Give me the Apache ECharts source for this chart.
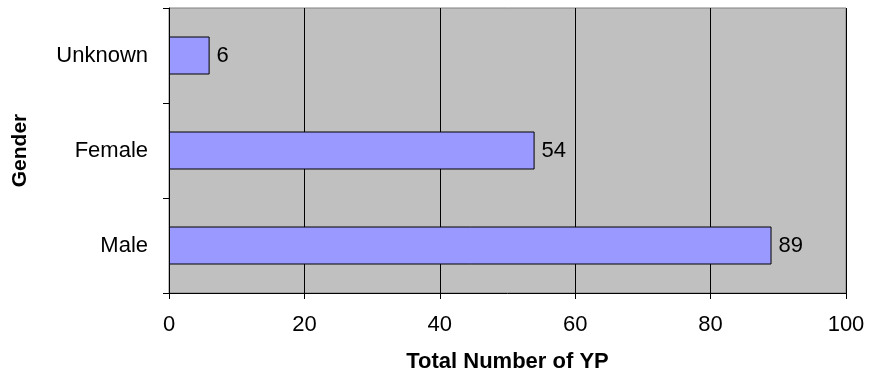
<!DOCTYPE html>
<html>
<head>
<meta charset="utf-8">
<script src="https://cdn.jsdelivr.net/npm/echarts@6/dist/echarts.min.js"></script>
<style>
  html, body { margin: 0; padding: 0; background: #fff; }
  #chart { width: 885px; height: 381px; }
</style>
</head>
<body>
<div id="chart"></div>
<script>
// Gender breakdown of young people (YP)
const categories = ['Male', 'Female', 'Unknown'];
const counts = [89, 54, 6];
const xTicks = [0, 20, 40, 60, 80, 100];

const font = 'Liberation Sans, Arial, sans-serif';
const chart = echarts.init(document.getElementById('chart'), null, { renderer: 'canvas' });

chart.setOption({
  animation: false,
  backgroundColor: '#ffffff',
  grid: {
    left: 169, top: 8, width: 677, height: 285,
    show: true, backgroundColor: '#c0c0c0', borderColor: '#808080', borderWidth: 1
  },
  xAxis: {
    type: 'value',
    min: xTicks[0],
    max: xTicks[xTicks.length - 1],
    interval: 20,
    name: 'Total Number of YP',
    nameLocation: 'middle',
    nameGap: 58,
    nameTextStyle: { fontFamily: font, fontSize: 22, fontWeight: 'bold', color: '#000' },
    axisLine: { show: true, lineStyle: { color: '#000', width: 1 } },
    axisTick: { show: true, length: 6, inside: false, lineStyle: { color: '#000' } },
    axisLabel: { fontFamily: font, fontSize: 22, color: '#000', margin: 21 },
    splitLine: { show: true, lineStyle: { color: '#000', width: 1 } }
  },
  yAxis: {
    type: 'category',
    data: categories,
    name: 'Gender',
    nameLocation: 'middle',
    nameGap: 138,
    nameRotate: 90,
    nameTextStyle: { fontFamily: font, fontSize: 21, fontWeight: 'bold', color: '#000' },
    axisLine: { show: true, lineStyle: { color: '#000', width: 1 } },
    axisTick: { show: true, length: 6, lineStyle: { color: '#000' } },
    axisLabel: { fontFamily: font, fontSize: 22, color: '#000', margin: 21 },
    splitLine: { show: false }
  },
  series: [{
    type: 'bar',
    data: counts,
    barCategoryGap: '60%',
    itemStyle: { color: '#9999ff', borderColor: '#000', borderWidth: 1 },
    label: {
      show: true, position: 'right', distance: 7,
      fontFamily: font, fontSize: 22, color: '#000'
    }
  }]
});
</script>
</body>
</html>
